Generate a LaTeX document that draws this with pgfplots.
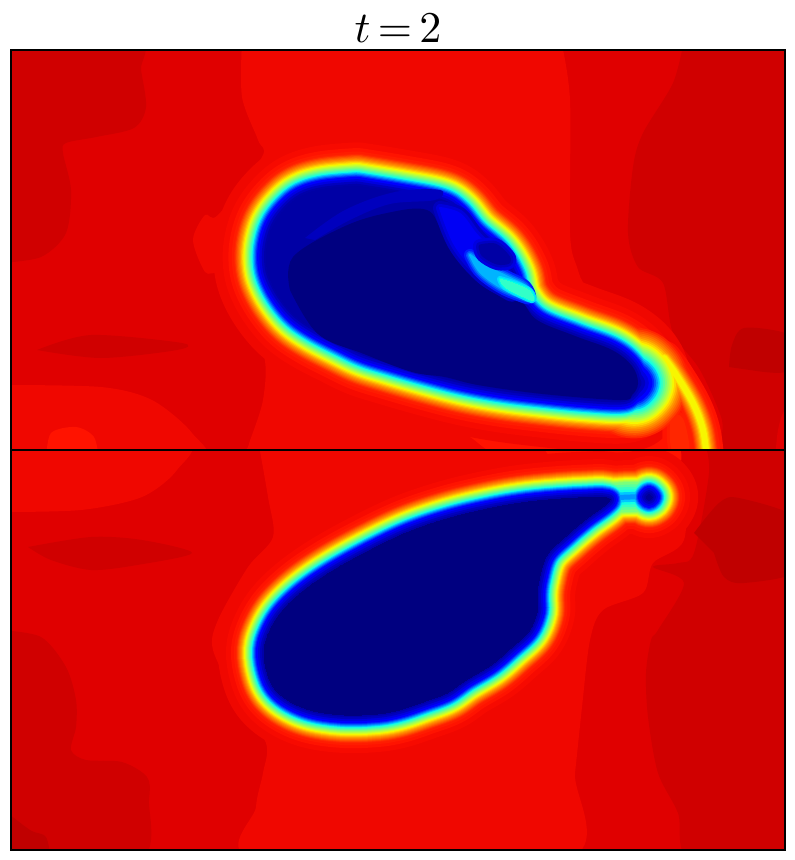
\documentclass[border=0pt]{standalone}
\usepackage{pgfplots}
\pgfplotsset{compat=1.18}
\usepackage{pgfplotstable}

% all coordinates are read in picture pixels, 1px = 0.75pt
\pgfplotstableread{
x y
357 186
400 193
440 201
458 212
475 232
498 252
512 275
518 298
537 320
575 336
612 350
632 366
638 383
632 395
620 400
582 398
543 394
503 389
465 382
426 372
388 361
363 353
340 342
315 329
296 316
282 300
272 283
267 267
267 247
273 226
285 209
301 196
324 189
357 186
}\topbody
\pgfplotstableread{
x y
634 378
638 383
634 388
}\toptip
\pgfplotstableread{
x y
664 358
675 373
693 403
703 430
707 460
}\toptail
\pgfplotstableread{
x y
672 415
682 420
688 450
680 460
672 445
672 415
}\topwedge
% roll-up: blue zone, cyan band, its bright end, dark spot
\pgfplotstableread{
x y
440 208
460 214
476 234
495 254
507 277
513 294
503 290
480 275
455 245
440 208
}\rollA
\pgfplotstableread{
x y
470 255
490 268
510 278
525 286
530 298
518 295
500 287
480 272
470 255
}\rollB
\pgfplotstableread{
x y
500 279
516 284
530 291
533 300
522 296
505 287
500 279
}\rollC
\pgfplotstableread{
x y
480 246
495 245
507 255
509 262
497 263
483 255
480 246
}\rollD
\pgfplotstableread{
x y
600 497
560 499
520 503
482 510
446 519
408 532
370 550
332 571
303 591
282 611
270 630
264 650
267 672
275 689
291 702
314 711
345 715
377 714
399 710
423 702
447 693
466 680
491 665
511 648
529 631
537 612
537 597
539 580
547 555
566 536
586 519
604 506
610 499
600 497
}\botbody
\pgfplotstableread{
x y
649 494
652 497
649 500
646 497
649 494
}\botknob
\pgfplotstableread{
x y
610 498
630 497
648 497
}\botneck

\definecolor{lvA}{RGB}{192,0,0}
\definecolor{lvB}{RGB}{208,0,0}
\definecolor{lvC}{RGB}{224,0,0}
\definecolor{lvD}{RGB}{240,7,0}
\definecolor{lvE}{RGB}{255,19,0}

% closed band: filled and stroked by the offset
\newcommand{\lay}[5]{\addplot[draw={rgb,255:red,#3;green,#4;blue,#5},fill={rgb,255:red,#3;green,#4;blue,#5},line width={(#2)*1.5pt},line join=round,line cap=round,smooth,tension=.6,forget plot] table {#1};}
% open band: stroke only
\newcommand{\str}[5]{\addplot[draw={rgb,255:red,#3;green,#4;blue,#5},line width={(#2)*1.5pt},line join=round,line cap=round,smooth,tension=.6,forget plot] table {#1};}

% distance from the navy core against jet colour
\newcommand{\levels}[1]{%
#1{46}{240}{7}{0}#1{38}{247}{10}{0}#1{33}{255}{19}{0}#1{30}{255}{28}{0}
#1{28}{255}{38}{0}#1{27}{255}{60}{0}#1{26}{255}{83}{0}#1{25}{255}{106}{0}
#1{24}{255}{128}{0}#1{23}{255}{151}{0}#1{22}{255}{182}{0}#1{21}{255}{214}{0}
#1{20}{247}{246}{0}#1{19}{216}{255}{31}#1{18}{185}{255}{62}#1{17}{154}{255}{93}
#1{16}{123}{255}{123}#1{15}{89}{255}{158}#1{14}{55}{255}{192}#1{13}{20}{255}{226}
#1{12}{0}{201}{255}#1{11}{0}{147}{255}#1{10}{0}{93}{255}#1{9}{0}{38}{255}
#1{8}{0}{0}{255}#1{6}{0}{0}{224}#1{4}{0}{0}{191}#1{2}{0}{0}{170}}

\newcommand{\toplev}[4]{\lay{\topbody}{#1*1.15}{#2}{#3}{#4}%
  \ifnum#1<29 \str{\toptip}{#1*1.8}{#2}{#3}{#4}\fi
  \ifnum#1>19 \ifnum#1<34 \str{\toptail}{(#1-20)*1.1+3}{#2}{#3}{#4}\fi\fi
  \ifnum#1>27 \ifnum#1<34 \lay{\topwedge}{(#1-27)*1.5}{#2}{#3}{#4}\fi\fi}
\newcommand{\botlev}[4]{\lay{\botbody}{#1}{#2}{#3}{#4}\lay{\botknob}{#1}{#2}{#3}{#4}%
  \ifnum#1>10 \str{\botneck}{min((#1-10)*2.5,#1-1)}{#2}{#3}{#4}\fi}

\pgfplotsset{
  panel/.style={scale only axis,width=580.5pt,height=300pt,
    xmin=11,xmax=785,y dir=reverse,xtick=\empty,ytick=\empty,
    axis on top,axis line style={black,line width=0.9pt},
    axis background/.style={fill=lvC}},
  reg/.style={draw=none,smooth,tension=.5,forget plot,fill=#1},
  fillonly/.style={draw=none,smooth,tension=.6,forget plot,fill={#1}},
}

\begin{document}
\begin{tikzpicture}
\path[use as bounding box] (-8.25pt,-307.5pt) rectangle (587.25pt,337.5pt);

\begin{axis}[panel,at={(0,0)},anchor=south west,ymin=50,ymax=450,
  title={$t\mskip3mu{=}\mskip3mu2$},title style={scale=3.3,yshift=-3.6pt}]
% background bands
\addplot[reg=lvD] coordinates {(242,40)(242,97)(258,140)(262,157)(218,215)(205,215)(193,240)(205,272)(218,275)(228,310)(263,353)(263,400)(248,447)(248,460)(670,460)(676,367)(673,340)(623,310)(587,287)(577,267)(570,233)(570,100)(561,40)};
\addplot[reg=lvB] coordinates {(0,40)(136,40)(141,70)(146,107)(134,128)(96,137)(66,143)(63,153)(71,190)(66,233)(41,257)(0,263)};
\addplot[reg=lvB] coordinates {(684,40)(673,83)(643,133)(633,167)(628,233)(638,267)(663,283)(673,333)(700,370)(722,420)(725,460)(800,460)(800,40)};
\addplot[reg=lvA] coordinates {(729,367)(732,345)(744,328)(785,333)(800,350)(785,372)(750,370)};
\addplot[reg=lvC] coordinates {(775,460)(778,430)(785,410)(800,410)(800,460)};
\addplot[reg=lvB] coordinates {(37,350)(91,335)(182,343)(177,350)(101,358)(37,350)};
\addplot[reg=lvD] coordinates {(0,385)(101,387)(152,400)(192,433)(195,460)(0,460)};
\addplot[reg=lvE] coordinates {(46,460)(51,433)(76,427)(94,437)(99,460)};
\addplot[reg=lvE] coordinates {(449,423)(470,437)(516,460)(668,460)(665,425)};
% interface
\levels{\toplev}
\lay{\topbody}{0}{0}{0}{165}
% navy core
\addplot[fillonly={rgb,255:red,0;green,0;blue,128}] coordinates {(290,290)(293,257)(343,227)(387,213)(427,210)(445,235)(480,270)(520,300)(537,320)(575,336)(612,350)(632,366)(638,383)(632,395)(620,400)(543,394)(478,385)(445,377)(412,372)(364,354)(318,334)(290,290)};
% lighter streak and the roll-up on the upper right
\addplot[fillonly={rgb,255:red,0;green,0;blue,190}] coordinates {(305,238)(345,210)(395,192)(440,190)(435,200)(390,204)(350,220)(315,240)};
\lay{\rollA}{7}{0}{0}{190}
\lay{\rollA}{4}{0}{0}{220}
\lay{\rollA}{1}{0}{0}{245}
\lay{\rollB}{6}{0}{30}{255}
\lay{\rollB}{4}{0}{80}{255}
\lay{\rollB}{2.5}{0}{130}{255}
\lay{\rollB}{1}{0}{180}{255}
\lay{\rollC}{3}{0}{220}{255}
\lay{\rollC}{1.5}{0}{255}{230}
\lay{\rollC}{0}{50}{255}{200}
\lay{\rollD}{7}{0}{0}{225}
\lay{\rollD}{4}{0}{0}{195}
\lay{\rollD}{1.5}{0}{0}{165}
\end{axis}

\begin{axis}[panel,at={(0,-300pt)},anchor=south west,ymin=450,ymax=850]
\addplot[reg=lvD] coordinates {(258,440)(268,497)(273,537)(248,567)(218,620)(213,650)(238,700)(266,743)(263,773)(256,807)(258,860)(565,860)(575,773)(582,707)(590,640)(603,610)(643,593)(653,563)(684,540)(684,473)(668,440)};
\addplot[reg=lvD] coordinates {(0,440)(182,440)(177,470)(142,497)(81,510)(0,512)};
\addplot[reg=lvB] coordinates {(0,630)(41,637)(66,667)(76,700)(76,727)(71,750)(86,760)(122,762)(147,777)(149,800)(139,860)(0,860)};
\addplot[reg=lvA] coordinates {(0,807)(30,830)(46,837)(46,860)(0,860)};
\addplot[reg=lvB] coordinates {(28,547)(91,537)(142,540)(192,553)(137,565)(91,570)(51,560)(28,547)};
\addplot[reg=lvB] coordinates {(704,440)(709,473)(694,553)(678,563)(653,567)(684,583)(658,630)(651,640)(646,673)(648,717)(658,773)(678,813)(691,860)(800,860)(800,440)};
\addplot[reg=lvA] coordinates {(694,533)(719,503)(739,498)(800,520)(800,570)(744,583)(724,577)(714,553)};
\addplot[reg=lvE] coordinates {(537,440)(668,440)(680,473)(670,520)(600,520)(560,470)};
\levels{\botlev}
\lay{\botbody}{0}{0}{0}{128}
\lay{\botknob}{0}{0}{0}{150}
\end{axis}
\end{tikzpicture}
\end{document}
